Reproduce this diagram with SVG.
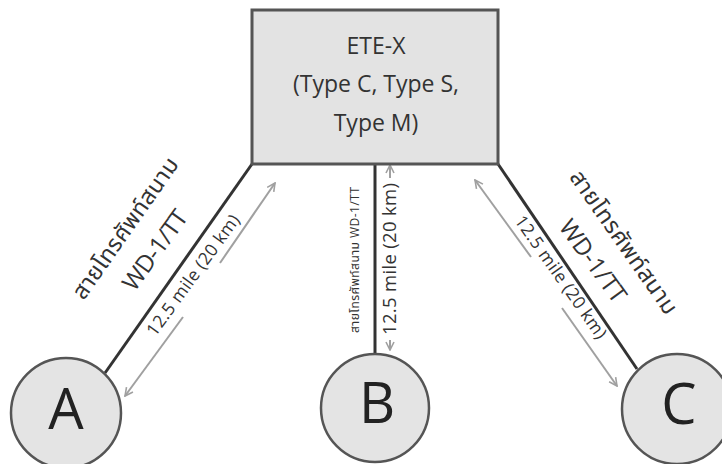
<svg xmlns="http://www.w3.org/2000/svg" width="722" height="464" viewBox="0 0 722 464">
<style>
.box{fill:#e3e3e3;stroke:#555;stroke-width:3}
.node{fill:#e4e4e4;stroke:#555;stroke-width:2.5}
.wire{stroke:#333;stroke-width:3;fill:none}
.dist{stroke:#a0a0a0;stroke-width:2;fill:none;marker-end:url(#ah)}
.t{font-family:"Open Sans","Noto Sans","Noto Sans Thai",sans-serif;fill:#333}
.big{font-family:"Open Sans","Noto Sans",sans-serif;fill:#222;font-size:56px;text-anchor:middle}
</style>
<defs>
<marker id="ah" viewBox="0 0 10 10" refX="9" refY="5" markerWidth="5" markerHeight="5" orient="auto" markerUnits="strokeWidth">
<path d="M1,1 L9,5 L1,9" fill="none" stroke="#a0a0a0" stroke-width="1.6"/>
</marker>
</defs>
<g id="connectors">
<line class="wire" x1="252" y1="164" x2="105" y2="373"/>
<line class="wire" x1="375" y1="164" x2="375" y2="354"/>
<line class="wire" x1="498" y1="164" x2="637" y2="369"/>
<line class="dist" x1="220" y1="263" x2="275" y2="183"/>
<line class="dist" x1="183" y1="317" x2="125" y2="396"/>
<line class="dist" x1="531" y1="257" x2="475" y2="180"/>
<line class="dist" x1="562" y1="308" x2="617" y2="386"/>
<line class="dist" x1="390" y1="178" x2="390" y2="165"/>
<line class="dist" x1="390" y1="340" x2="390" y2="350"/>
<text class="t" font-size="17.5" text-anchor="middle" dy="0.35em" textLength="145" transform="translate(193,275) rotate(-54)">12.5 mile (20 km)</text>
<text class="t" font-size="23" text-anchor="middle" dy="0.35em" textLength="167" transform="translate(125,228) rotate(-55)">สายโทรศัพท์สนาม</text>
<text class="t" font-size="24" text-anchor="middle" dy="0.35em" textLength="93" transform="translate(155,250) rotate(-54)">WD-1/TT</text>
<text class="t" font-size="17.5" text-anchor="middle" dy="0.35em" textLength="146" transform="translate(561,277) rotate(55)">12.5 mile (20 km)</text>
<text class="t" font-size="23" text-anchor="middle" dy="0.35em" textLength="170" transform="translate(624,242) rotate(55)">สายโทรศัพท์สนาม</text>
<text class="t" font-size="24" text-anchor="middle" dy="0.35em" textLength="96" transform="translate(593,261) rotate(54)">WD-1/TT</text>
<text class="t" font-size="18.5" text-anchor="middle" dy="0.35em" textLength="152" transform="translate(390,259) rotate(-90)">12.5 mile (20 km)</text>
<text class="t" font-size="12" text-anchor="middle" dy="0.35em" textLength="146" transform="translate(355,260) rotate(-90)">สายโทรศัพท์สนาม WD-1/TT</text>
</g>
<g id="ete-x">
<rect class="box" x="252" y="10" width="246" height="154"/>
<text class="t" font-size="23" text-anchor="middle" x="376" y="54">ETE-X</text>
<text class="t" font-size="23" text-anchor="middle" x="376" y="92">(Type C, Type S,</text>
<text class="t" font-size="23" text-anchor="middle" x="376" y="131">Type M)</text>
</g>
<g id="node-a">
<circle class="node" cx="66" cy="413" r="55"/>
<text class="big" x="66" y="429">A</text>
</g>
<g id="node-b">
<circle class="node" cx="375" cy="408" r="54"/>
<text class="big" x="377" y="423">B</text>
</g>
<g id="node-c">
<circle class="node" cx="677" cy="409" r="55"/>
<text class="big" x="679" y="424">C</text>
</g>
</svg>
